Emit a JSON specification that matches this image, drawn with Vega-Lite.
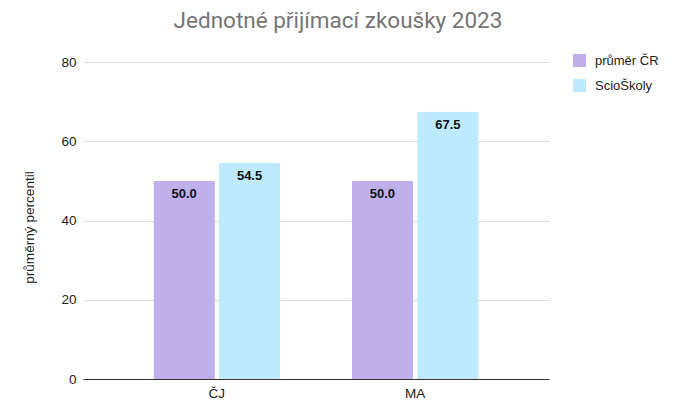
{
  "$schema": "https://vega.github.io/schema/vega-lite/v6.json",
  "autosize": "none",
  "padding": {"left": 83, "top": 62, "right": 131, "bottom": 41},
  "width": 466,
  "height": 317,
  "background": "white",
  "title": {"text": "Jednotné přijímací zkoušky 2023", "font": "Roboto", "fontSize": 22.5, "fontWeight": "normal", "color": "#757575", "anchor": "middle", "dx": 22, "offset": 22},
  "data": {"values": [
    {"subject": "ČJ", "series": "průměr ČR", "value": 50.0},
    {"subject": "ČJ", "series": "ScioŠkoly", "value": 54.5},
    {"subject": "MA", "series": "průměr ČR", "value": 50.0},
    {"subject": "MA", "series": "ScioŠkoly", "value": 67.5}
  ]},
  "config": {"view": {"stroke": null}, "font": "Liberation Sans"},
  "encoding": {
    "x": {"field": "subject", "type": "nominal", "sort": null,
      "scale": {"paddingInner": 0.36, "paddingOuter": 0.355},
      "axis": {"title": null, "labelAngle": 0, "labelFont": "Liberation Sans", "labelFontSize": 13.5, "labelColor": "#222222", "ticks": false, "domainColor": "#333333", "labelPadding": 7, "grid": false}},
    "xOffset": {"field": "series", "type": "nominal", "sort": null, "scale": {"paddingInner": 0.06}},
    "y": {"field": "value", "type": "quantitative",
      "scale": {"domain": [0, 80]},
      "axis": {"title": "průměrný percentil", "titleFont": "Liberation Sans", "titleFontSize": 13.6, "titleFontWeight": "normal", "titleColor": "#222222", "titlePadding": 24, "titleY": 165, "values": [0, 20, 40, 60, 80], "labelFont": "Liberation Sans", "labelFontSize": 13.5, "labelColor": "#222222", "labelPadding": 7, "ticks": false, "domain": false, "gridColor": "#dddddd"}}
  },
  "layer": [
    {"mark": {"type": "bar", "cornerRadiusTopLeft": 2, "cornerRadiusTopRight": 2},
      "encoding": {"color": {"field": "series", "type": "nominal", "sort": null,
        "scale": {"domain": ["průměr ČR", "ScioŠkoly"], "range": ["#bfb0ec", "#bdeafd"]},
        "legend": {"title": null, "orient": "none", "legendX": 490, "legendY": -8, "symbolType": "square", "symbolSize": 169, "symbolStrokeWidth": 0, "symbolOpacity": 1, "labelFont": "Liberation Sans", "labelFontSize": 13, "labelColor": "#222222", "labelOffset": 9, "rowPadding": 11}}}},
    {"mark": {"type": "text", "baseline": "middle", "dy": 13, "font": "Liberation Sans", "fontSize": 13, "fontWeight": "bold", "color": "#111111"},
      "encoding": {"text": {"field": "value", "type": "quantitative", "format": ".1f"}}}
  ]
}
